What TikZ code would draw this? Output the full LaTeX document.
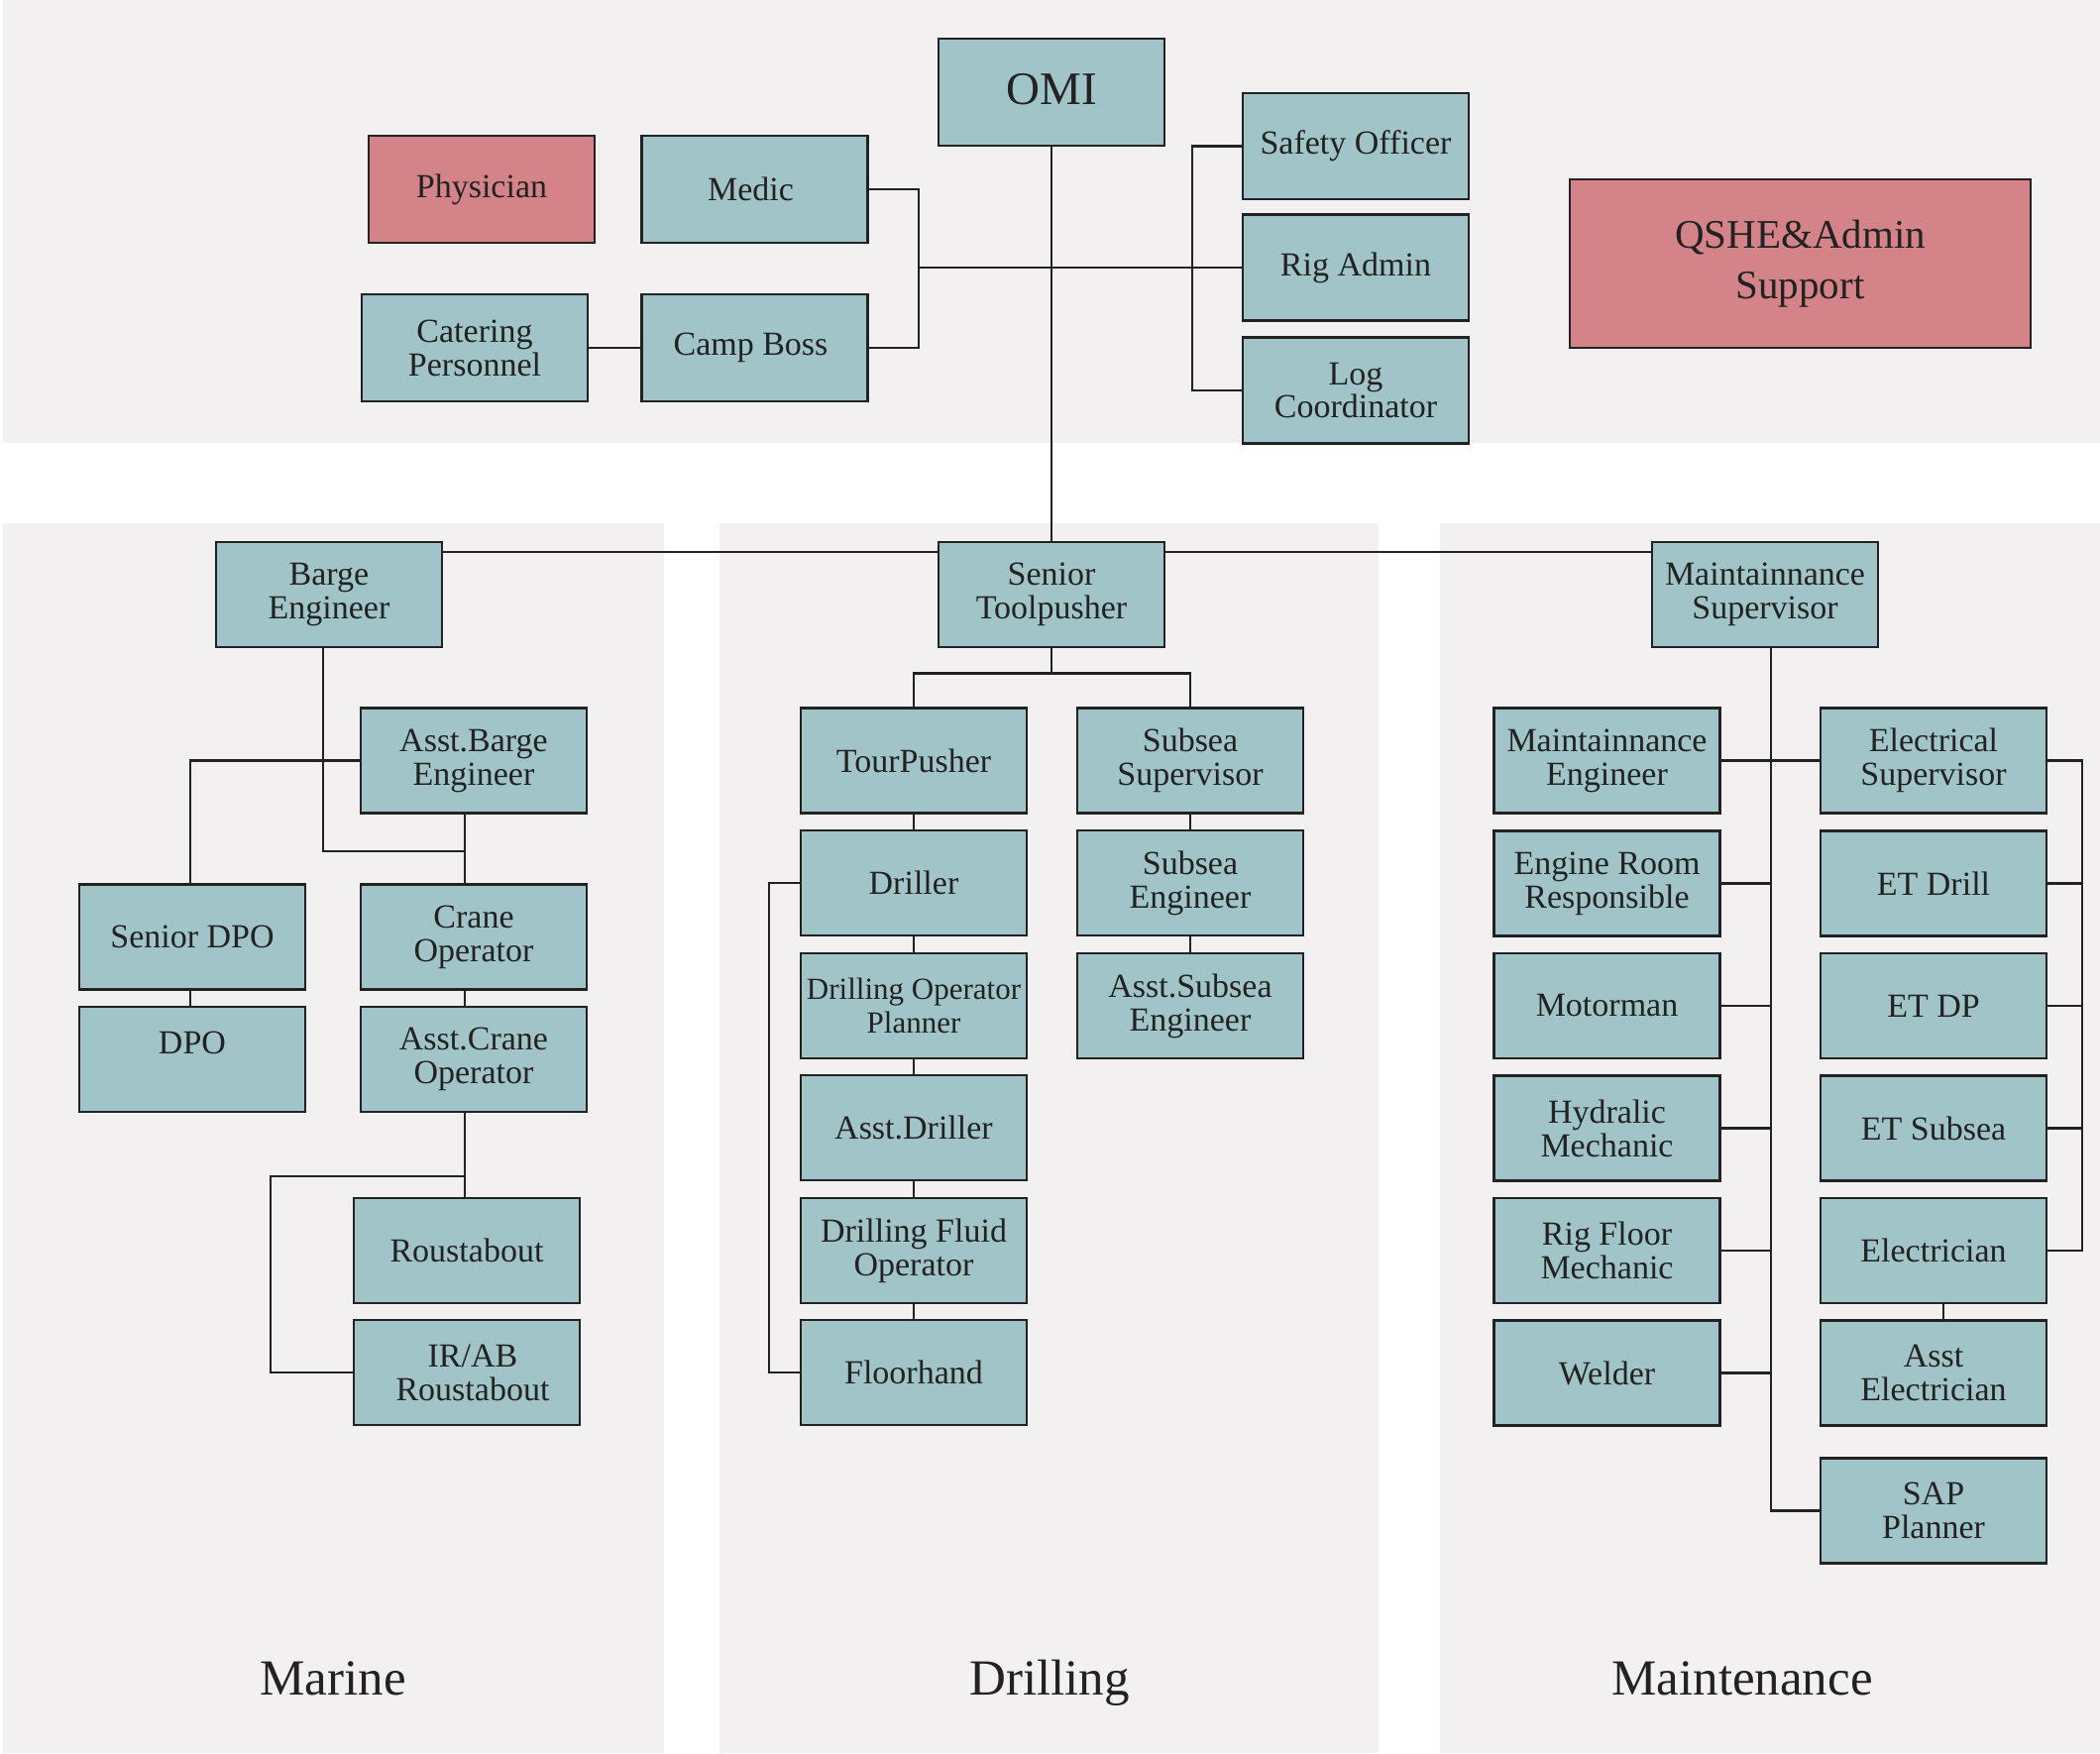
\documentclass[tikz,border=0pt]{standalone}
\usepackage{fontspec}
\setmainfont{Liberation Serif}
\definecolor{boxteal}{HTML}{A1C4C8}
\definecolor{boxred}{HTML}{D48489}
\definecolor{panel}{HTML}{F2F0F1}
\definecolor{ink}{HTML}{222222}
\begin{document}
\begin{tikzpicture}[x=1pt,y=-1pt,
  role/.style={draw=ink, line width=2.5pt, fill=boxteal, minimum width=228pt, minimum height=106pt, inner sep=0pt, align=center, text=ink, font=\fontsize{34}{34}\selectfont},
  toprole/.style={role, minimum height=108pt},
  redrole/.style={toprole, fill=boxred},
  link/.style={draw=ink, line width=2.8pt},
  dept/.style={text=ink, font=\fontsize{51}{51}\selectfont, anchor=base}]
\useasboundingbox (0,0) rectangle (2119,1769);
\fill[white] (0,0) rectangle (2119,1769);
% panels
\fill[panel] (3,0) rectangle (2119,447);
\fill[panel] (3,528) rectangle (670,1769);
\fill[panel] (726,528) rectangle (1391,1769);
\fill[panel] (1453,528) rectangle (2119,1769);

% top section
\node[toprole, font=\fontsize{47}{47}\selectfont] (OMI) at (1061,93) {\raisebox{6pt}{OMI}};
\node[redrole] (Phys) at (486,191) {Physician};
\node[toprole] (Medic) at (761.5,191) {\hspace*{-8pt}Medic};
\node[toprole] (Cater) at (479,351) {Catering\\Personnel};
\node[toprole] (Camp) at (761.5,351) {\hspace*{-8pt}Camp Boss};
\node[toprole, minimum height=107pt] (Safety) at (1368,147.5) {Safety Officer};
\node[toprole, minimum height=107pt] (RigAdm) at (1368,270) {Rig Admin};
\node[toprole, minimum height=107pt, font=\fontsize{34}{33}\selectfont] (LogC) at (1368,394) {Log\\Coordinator};
\node[redrole, minimum width=465pt, minimum height=170pt, font=\fontsize{41}{51}\selectfont] (QSHE) at (1816.5,266) {QSHE\&Admin\\Support};

\coordinate (hub) at (927,270);
\coordinate (tb) at (1203,0);
\draw[link] (Medic.east) -| (hub) |- (Camp.east);
\draw[link] (hub) -- (RigAdm.west);
\draw[link] (Cater.east) -- (Camp.west);
\draw[link] (Safety.west) -| (tb |- LogC.west) -- (LogC.west);

% second level
\node[role] (Barge) at (332,600) {Barge\\Engineer};
\node[role] (SrTP) at (1061,600) {Senior\\Toolpusher};
\node[role] (MS) at (1781,600) {Maintainnance\\Supervisor};
\draw[link] (OMI.south) -- (SrTP.north);
\draw[link] ([yshift=43pt]Barge.east) -- ([yshift=43pt]SrTP.west);
\draw[link] ([yshift=43pt]SrTP.east) -- ([yshift=43pt]MS.west);

% Marine
\node[role] (ABarge) at (478,767.5) {Asst.Barge\\Engineer};
\node[role] (SDPO) at (194,945.5) {Senior DPO};
\node[role] (DPO) at (194,1069) {DPO\\\mbox{}};
\node[role] (Crane) at (478,945.5) {Crane\\Operator};
\node[role] (ACrane) at (478,1069) {Asst.Crane\\Operator};
\node[role] (Roust) at (471,1262) {Roustabout};
\node[role] (IRAB) at (471,1385) {\hspace*{12pt}IR/AB\\\hspace*{12pt}Roustabout};
\coordinate (mj) at (469,859);
\coordinate (rj) at (469,1187);
\draw[link] ([xshift=-6pt]Barge.south) |- (mj);
\draw[link] ([xshift=-9pt]ABarge.south) -- ([xshift=-9pt]Crane.north);
\draw[link] (ABarge.west) -| ([xshift=-2pt]SDPO.north);
\draw[link] ([xshift=-2pt]SDPO.south) -- ([xshift=-2pt]DPO.north);
\draw[link] ([xshift=-9pt]Crane.south) -- ([xshift=-9pt]ACrane.north);
\draw[link] ([xshift=-9pt]ACrane.south) -- ([xshift=-2pt]Roust.north);
\draw[link] (rj) -- (273,1187) |- (IRAB.west);

% Drilling
\node[role] (Tour) at (922,767.5) {TourPusher};
\node[role] (Driller) at (922,891) {Driller};
\node[role, font=\fontsize{31}{34}\selectfont] (DOP) at (922,1015) {Drilling Operator\\Planner};
\node[role] (ADriller) at (922,1138) {Asst.Driller};
\node[role] (DFO) at (922,1262) {Drilling Fluid\\Operator};
\node[role] (Floor) at (922,1385) {Floorhand};
\node[role] (SubSup) at (1201,767.5) {Subsea\\Supervisor};
\node[role] (SubEng) at (1201,891) {Subsea\\Engineer};
\node[role] (ASub) at (1201,1015) {Asst.Subsea\\Engineer};
\coordinate (dj) at (1061,679.5);
\draw[link] (SrTP.south) -- (dj);
\draw[link] (Tour.north) |- (dj) -| (SubSup.north);
\draw[link] (Tour.south) -- (Driller.north);
\draw[link] (Driller.south) -- (DOP.north);
\draw[link] (DOP.south) -- (ADriller.north);
\draw[link] (ADriller.south) -- (DFO.north);
\draw[link] (DFO.south) -- (Floor.north);
\draw[link] (SubSup.south) -- (SubEng.north);
\draw[link] (SubEng.south) -- (ASub.north);
\coordinate (db) at (776,0);
\draw[link] (Driller.west) -- (Driller.west -| db) |- (Floor.west);

% Maintenance
\node[role] (ME) at (1621.5,767.5) {Maintainnance\\Engineer};
\node[role] (ER) at (1621.5,891.5) {Engine Room\\Responsible};
\node[role] (Motor) at (1621.5,1015) {Motorman};
\node[role] (Hyd) at (1621.5,1138.5) {Hydralic\\Mechanic};
\node[role] (RFM) at (1621.5,1262) {Rig Floor\\Mechanic};
\node[role] (Weld) at (1621.5,1385.5) {Welder};
\node[role] (ES) at (1951,767.5) {Electrical\\Supervisor};
\node[role] (ETD) at (1951,891.5) {ET Drill};
\node[role] (ETDP) at (1951,1015) {ET DP};
\node[role] (ETS) at (1951,1138.5) {ET Subsea};
\node[role] (Elec) at (1951,1262) {Electrician};
\node[role] (AElec) at (1951,1385.5) {Asst\\Electrician};
\node[role] (SAP) at (1951,1524.5) {SAP\\Planner};
\coordinate (spine) at (1787,0);
\coordinate (rb) at (2101,0);
\draw[link] ([xshift=6pt]MS.south) -- (spine |- SAP.west) -- (SAP.west);
\foreach \n in {ME,ER,Motor,Hyd,RFM,Weld}{
  \draw[link] (\n.east) -- (\n.east -| spine);
}
\draw[link] (ES.west) -- (ES.west -| spine);
\draw[link] (ES.east) -| (rb |- Elec.east) -- (Elec.east);
\foreach \n in {ETD,ETDP,ETS}{
  \draw[link] (\n.east) -- (\n.east -| rb);
}
\draw[link] ([xshift=10pt]Elec.south) -- ([xshift=10pt]AElec.north);

% department labels
\node[dept] (lMarine) at (336,1710) {Marine};
\node[dept] (lDrill) at (1059,1710) {Drilling};
\node[dept] (lMaint) at (1758,1710) {Maintenance};
\end{tikzpicture}
\end{document}
